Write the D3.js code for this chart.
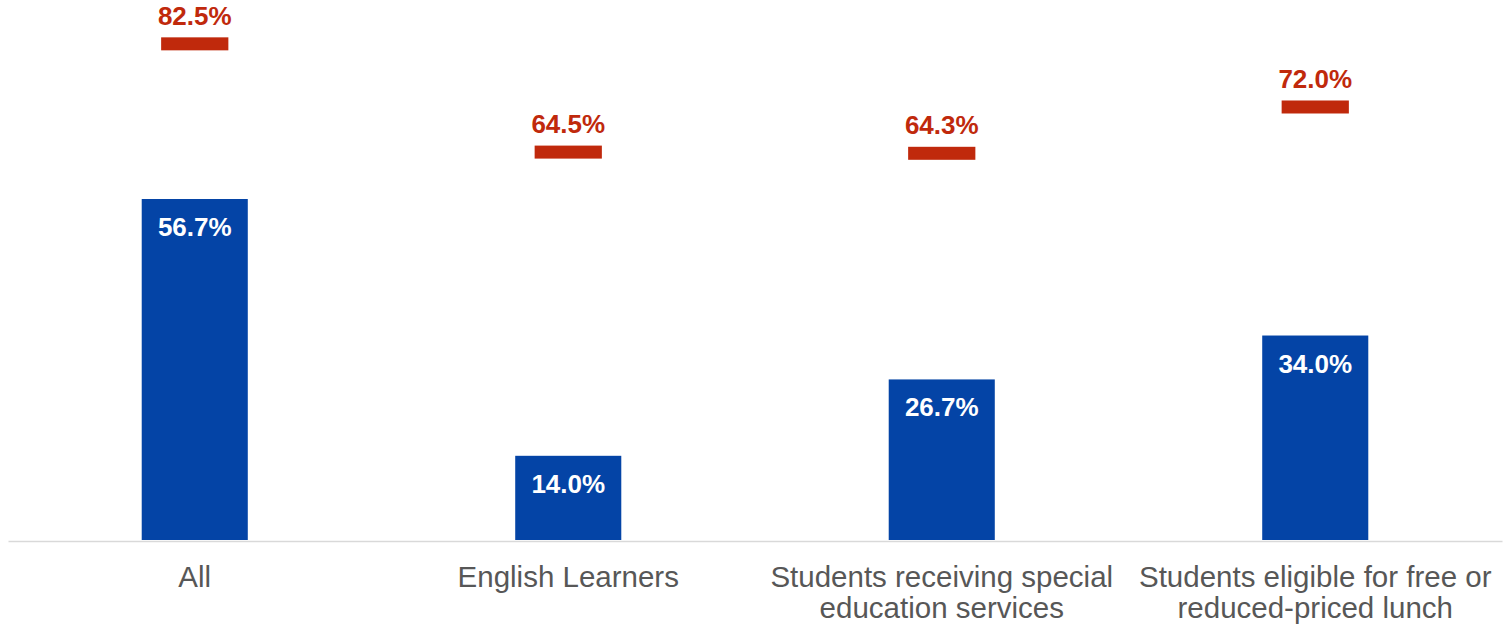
<!DOCTYPE html>
<html>
<head>
<meta charset="utf-8">
<script src="https://cdn.jsdelivr.net/npm/d3@7"></script>
<style>
  html, body { margin: 0; padding: 0; background: #ffffff; }
  svg { display: block; font-family: "Liberation Sans", Arial, Helvetica, sans-serif; }
</style>
</head>
<body>
<svg id="chart" width="1508" height="624"></svg>
<script>
// Student groups on the x axis
const categories = [
  "All",
  "English Learners",
  "Students receiving special education services",
  "Students eligible for free or reduced-priced lunch"
];
// Blue bars (percent)
const barValues = [56.7, 14.0, 26.7, 34.0];
// Red target markers (percent)
const targetValues = [82.5, 64.5, 64.3, 72.0];

const svg = d3.select("#chart");
const baseline = 540;

const x = d3.scaleBand()
  .domain(categories)
  .range([8, 1502])
  .padding(0);

const y = d3.scaleLinear()
  .domain([0, 100])
  .range([baseline, baseline - 601.4]);

const barW = x.bandwidth() * 0.284;
const markW = x.bandwidth() * 0.18;
const markH = 13;
const blue = "#0444a6";
const red = "#c0290c";
const fmt = d => d.toFixed(1) + "%";

const data = categories.map((c, i) => ({ c, v: barValues[i], t: targetValues[i] }));

// Bars
svg.append("g").selectAll("rect")
  .data(data)
  .join("rect")
  .attr("x", d => x(d.c) + x.bandwidth() / 2 - barW / 2)
  .attr("y", d => y(d.v))
  .attr("width", barW)
  .attr("height", d => y(0) - y(d.v))
  .attr("fill", blue);

// Value labels inside the bars
svg.append("g").selectAll("text")
  .data(data)
  .join("text")
  .attr("x", d => x(d.c) + x.bandwidth() / 2)
  .attr("y", d => y(d.v) + 37)
  .attr("text-anchor", "middle")
  .attr("fill", "#ffffff")
  .attr("font-size", 26)
  .attr("font-weight", "bold")
  .text(d => fmt(d.v));

// Target markers
svg.append("g").selectAll("rect")
  .data(data)
  .join("rect")
  .attr("x", d => x(d.c) + x.bandwidth() / 2 - markW / 2)
  .attr("y", d => y(d.t) - markH / 2)
  .attr("width", markW)
  .attr("height", markH)
  .attr("fill", red);

// Target labels
svg.append("g").selectAll("text")
  .data(data)
  .join("text")
  .attr("x", d => x(d.c) + x.bandwidth() / 2)
  .attr("y", d => y(d.t) - markH / 2 - 12.5)
  .attr("text-anchor", "middle")
  .attr("fill", red)
  .attr("font-size", 26)
  .attr("font-weight", "bold")
  .text(d => fmt(d.t));

// Category axis
const axis = svg.append("g")
  .attr("transform", `translate(0,${baseline + 1})`)
  .call(d3.axisBottom(x).tickSize(0).tickSizeOuter(0).tickPadding(0));

axis.select(".domain")
  .attr("stroke", "#d9d9d9")
  .attr("stroke-width", 1.6);

axis.selectAll(".tick text")
  .attr("font-family", "\"Liberation Sans\", Arial, Helvetica, sans-serif")
  .attr("font-size", 29.5)
  .attr("fill", "#575757")
  .attr("dy", null)
  .attr("y", 46)
  .call(wrap, 372);

function wrap(sel, maxW) {
  sel.each(function () {
    const text = d3.select(this);
    const words = text.text().split(/\s+/);
    const yPos = +text.attr("y");
    text.text(null);
    let line = [];
    let lineNo = 0;
    let tspan = text.append("tspan").attr("x", 0).attr("y", yPos);
    for (const w of words) {
      line.push(w);
      tspan.text(line.join(" "));
      if (tspan.node().getComputedTextLength() > maxW && line.length > 1) {
        line.pop();
        tspan.text(line.join(" "));
        line = [w];
        lineNo++;
        tspan = text.append("tspan").attr("x", 0).attr("y", yPos + lineNo * 31).text(w);
      }
    }
  });
}
</script>
</body>
</html>
